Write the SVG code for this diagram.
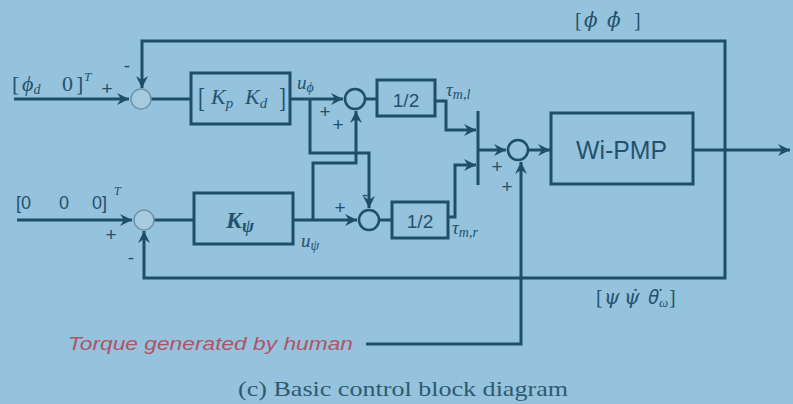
<svg xmlns="http://www.w3.org/2000/svg" width="793" height="404" viewBox="0 0 793 404">
<defs>
<marker id="arr" markerUnits="userSpaceOnUse" markerWidth="14" markerHeight="12" refX="12" refY="6" orient="auto">
<path d="M0,0 L12,6 L0,12 L4,6 z" fill="#1d4e6a"/>
</marker>
<style>
.ln{fill:none;stroke:#1d4e6a;stroke-width:3}
.blk{fill:none;stroke:#1d4e6a;stroke-width:3}
.sum{fill:none;stroke:#1d4e6a;stroke-width:2.5}
.sum0{fill:#a6cbe1;stroke:#7194a8;stroke-width:1.5}
.m{font-family:"Liberation Serif",serif;font-style:italic;fill:#24526d}
.d{font-family:"DejaVu Serif",serif;font-style:italic}
.ns{font-family:"Noto Sans",sans-serif;font-style:italic}
.r{font-family:"Liberation Serif",serif;fill:#24526d}
.n{font-style:normal}
.s{font-family:"Liberation Sans",sans-serif;fill:#24526d}
.sg{font-family:"Liberation Sans",sans-serif;fill:#24526d;font-size:19px;text-anchor:middle}
</style>
</defs>
<rect width="793" height="404" fill="#95c2dc"/>

<g id="connectors">
<path class="ln" d="M14,99 H129" marker-end="url(#arr)"/>
<path class="ln" d="M151,99 H191"/>
<path class="ln" d="M290,99 H343" marker-end="url(#arr)"/>
<path class="ln" d="M365,99 H377"/>
<path class="ln" d="M310,99 V153 H369 V208" marker-end="url(#arr)"/>
<path class="ln" d="M313,220 V163 H356 V111" marker-end="url(#arr)"/>
<path class="ln" d="M17,220 H132" marker-end="url(#arr)"/>
<path class="ln" d="M154,220 H194"/>
<path class="ln" d="M293,220 H357" marker-end="url(#arr)"/>
<path class="ln" d="M379,220 H392"/>
<path class="ln" d="M435,101 H446 V130 H476" marker-end="url(#arr)"/>
<path class="ln" d="M448,217 H455 V165 H476" marker-end="url(#arr)"/>
<path class="ln" d="M478,111 V185"/>
<path class="ln" d="M478,150 H506" marker-end="url(#arr)"/>
<path class="ln" d="M528,150 H550" marker-end="url(#arr)"/>
<path class="ln" d="M693,150 H790" marker-end="url(#arr)"/>
<path class="ln" d="M725,150 V41 H142 V88" marker-end="url(#arr)"/>
<path class="ln" d="M725,150 V278 H144 V231" marker-end="url(#arr)"/>
<path class="ln" d="M366,344 H521 V162" marker-end="url(#arr)"/>
</g>

<g id="sum1"><circle class="sum0" cx="141" cy="99" r="10"/></g>
<g id="sum2"><circle class="sum0" cx="144" cy="220" r="10"/></g>
<g id="sum3"><circle class="sum" cx="355" cy="99" r="10"/></g>
<g id="sum4"><circle class="sum" cx="369" cy="220" r="10"/></g>
<g id="sum5"><circle class="sum" cx="518" cy="150" r="10"/></g>

<g id="kpkd">
<rect class="blk" x="191" y="73" width="99" height="51"/>
<text class="r" x="198" y="107" font-size="28" transform="translate(198 107) scale(0.75 1) translate(-198 -107)">[</text>
<text class="m" x="211" y="104" font-size="22">K<tspan font-size="15" dy="4">p</tspan></text>
<text class="m" x="245" y="104" font-size="22">K<tspan font-size="15" dy="4">d</tspan></text>
<text class="r" x="279" y="107" font-size="28" transform="translate(279 107) scale(0.75 1) translate(-279 -107)">]</text>
</g>
<g id="kpsi">
<rect class="blk" x="194" y="193" width="99" height="51"/>
<text class="m" x="226" y="228" font-size="24" font-weight="bold">K<tspan font-size="18" dy="4">ψ</tspan></text>
</g>
<g id="half1">
<rect class="blk" x="377" y="80" width="58" height="36"/>
<text class="s" x="406" y="107" font-size="19" text-anchor="middle">1/2</text>
</g>
<g id="half2">
<rect class="blk" x="392" y="202" width="56" height="36"/>
<text class="s" x="420" y="228" font-size="19" text-anchor="middle">1/2</text>
</g>
<g id="wipmp">
<rect class="blk" x="551" y="113" width="142" height="71"/>
<text class="s" x="576" y="159" font-size="26" textLength="91" lengthAdjust="spacingAndGlyphs" fill="#3a6078">Wi-PMP</text>
</g>

<g id="labels">
<text class="m" y="91" font-size="22"><tspan class="n" x="12">[</tspan><tspan x="22">ϕ</tspan><tspan font-size="14" dy="3">d</tspan><tspan class="n" x="62" dy="-3">0</tspan><tspan class="n" x="76">]</tspan><tspan x="84" dy="-10" font-size="13">T</tspan></text>
<text class="sg" x="107" y="95">+</text>
<text class="sg" x="127" y="72">-</text>

<text class="s" y="209" font-size="18"><tspan x="16">[0</tspan><tspan x="59">0</tspan><tspan x="92">0]</tspan><tspan class="m" x="114" dy="-14" font-size="12">T</tspan></text>
<text class="sg" x="111" y="241">+</text>
<text class="sg" x="131" y="264">-</text>

<text class="m" x="297" y="89" font-size="19">u<tspan font-size="14" dy="3">ϕ</tspan></text>
<text class="sg" x="325" y="118">+</text>
<text class="sg" x="338" y="131">+</text>
<text class="sg" x="365" y="201">-</text>
<text class="sg" x="340" y="214">+</text>
<text class="m" x="301" y="247" font-size="19">u<tspan font-size="14" dy="3">ψ</tspan></text>
<text class="m" x="446" y="96" font-size="19">τ<tspan font-size="14" dy="3">m,l</tspan></text>
<text class="m" x="452" y="234" font-size="19">τ<tspan font-size="14" dy="3">m,r</tspan></text>
<text class="sg" x="497" y="173">+</text>
<text class="sg" x="507" y="193">+</text>

<text class="m" y="27" font-size="20"><tspan class="n" x="575">[</tspan><tspan class="d" x="584">ϕ</tspan><tspan class="d" x="607">ϕ̇</tspan><tspan class="n" x="634">]</tspan></text>

<text class="m" y="304" font-size="20"><tspan class="n" x="596">[</tspan><tspan class="d" x="604">ψ</tspan><tspan class="d" x="624">ψ̇</tspan><tspan class="ns" x="648">θ̇</tspan><tspan x="659" dy="3" font-size="13">ω</tspan><tspan class="n" x="669" dy="-3">]</tspan></text>

<text x="68" y="350" font-family="Liberation Sans,sans-serif" font-style="italic" font-size="19" textLength="285" lengthAdjust="spacingAndGlyphs" fill="#b05468">Torque generated by human</text>
<text x="238" y="396" font-family="Liberation Serif,serif" font-size="22" textLength="330" lengthAdjust="spacingAndGlyphs" fill="#2e5a70">(c)  Basic control block diagram</text>
</g>
</svg>
